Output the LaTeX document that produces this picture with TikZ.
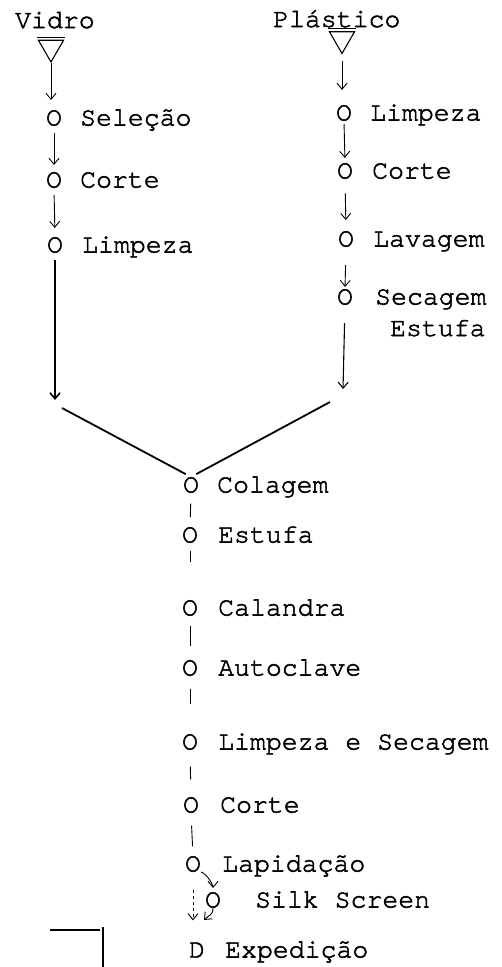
\documentclass[tikz,border=0pt]{standalone}
\usepackage{fontspec}
\newfontfamily\tw{texgyrecursor-regular}[Extension=.otf, FakeBold=2]
\newcommand\twfont{\tw\fontsize{26.5}{30}\selectfont}
\usetikzlibrary{arrows.meta, shapes.geometric, calc}

\begin{document}
\begin{tikzpicture}[x=1pt, y=-1pt,
  txt/.style={font=\twfont, inner sep=0pt, anchor=base west},
  op/.style={font=\twfont, inner sep=0pt, anchor=center},
  store/.style={draw, line width=1.1pt, regular polygon, regular polygon sides=3,
    shape border rotate=180, inner sep=0pt, minimum size=29pt},
  flow/.style={line width=0.9pt, -{Straight Barb[length=6pt, width=10pt]}},
  link/.style={line width=0.9pt},
  merge/.style={line width=1.8pt}]
\useasboundingbox (0,0) rectangle (502,967);

% --- glass branch ---
\node[txt] (vidro) at (15,28) {Vidro};
\node[store] (vtri) at (51,47.5) {};
\draw[line width=1pt] ($(vtri.corner 2)+(0,-2.5)$) -- ($(vtri.corner 3)+(0,-2.5)$);
\node[op] (vsel) at (54,118) {O};
\node[txt] (vsell) at (80,125.5) {Seleção};
\node[op] (vcor) at (54,180) {O};
\node[txt] (vcorl) at (80,187.5) {Corte};
\node[op] (vlim) at (55,245) {O};
\node[txt] (vliml) at (82,252.5) {Limpeza};

% --- plastic branch ---
\node[txt] (plas) at (273,27) {Plástico};
\node[store] (ptri) at (342,39) {};
\draw[line width=1pt] ($(ptri.corner 2)+(0,-2.5)$) -- ($(ptri.corner 3)+(0,-2.5)$);
\node[op] (plim) at (344,113) {O};
\node[txt] (pliml) at (370,120.5) {Limpeza};
\node[op] (pcor) at (345,171) {O};
\node[txt] (pcorl) at (372,178.5) {Corte};
\node[op] (plav) at (346,239) {O};
\node[txt] (plavl) at (373,246.5) {Lavagem};
\node[op] (psec) at (345,297) {O};
\node[txt] (psecl) at (375,304.5) {Secagem};
\node[txt] (psecl2) at (390,336) {Estufa};

% --- joint line ---
\node[op] (col) at (191,485) {O};
\node[txt] (coll) at (217,492.5) {Colagem};
\node[op] (est) at (190,535) {O};
\node[txt] (estl) at (218,542.5) {Estufa};
\node[op] (cal) at (190,608) {O};
\node[txt] (call) at (218,615.5) {Calandra};
\node[op] (aut) at (190,668) {O};
\node[txt] (autl) at (218,675.5) {Autoclave};
\node[op] (les) at (190,742) {O};
\node[txt] (lesl) at (218,749.5) {Limpeza e Secagem};
\node[op] (cor) at (191,805) {O};
\node[txt] (corl) at (220,812.5) {Corte};
\node[op] (lap) at (193,864) {O};
\node[txt] (lapl) at (222,871.5) {Lapidação};
\node[op] (silk) at (213,900) {O};
\node[txt] (silkl) at (255,907.5) {Silk Screen};
\node[op] (exp) at (197,950) {D};
\node[txt] (expl) at (225,957.5) {Expedição};

% arrow ends and merge points
\coordinate (jlt) at (55,400);
\coordinate (jls) at (62,408);
\coordinate (jrt) at (343,389);
\coordinate (jrs) at (330,402);
\coordinate (sxt) at (204,920);

% glass flow
\draw[flow] (vtri.corner 1) -- (vtri.corner 1 |- vsel.north) [shorten >=10pt];
\draw[flow, shorten <=7pt, shorten >=7pt] (vsel.south) -- (vcor.north);
\draw[flow, shorten <=7pt, shorten >=9pt] (vcor.south) -- (vlim.north);
\draw[flow, line width=1.6pt, shorten <=7pt] (vlim.south) -- (jlt);

% plastic flow
\draw[flow, shorten <=6pt, shorten >=15pt] (ptri.corner 1) -- (ptri.corner 1 |- plim.north);
\draw[flow, shorten <=3pt, shorten >=5pt] (plim.south) -- (pcor.north);
\draw[flow, shorten <=14pt, shorten >=11pt] (pcor.south) -- (plav.north);
\draw[flow, shorten <=18pt, shorten >=2pt] (plav.south) -- (psec.north);
\draw[flow, line width=1.1pt, shorten <=18pt] (psec.south) -- (jrt);

% branches joining at the bonding step
\draw[merge, shorten >=6pt] (jls) -- (col.north);
\draw[merge, shorten >=6pt] (jrs) -- (col.north);

% joint line links
\draw[link, shorten <=10.5pt, shorten >=9.5pt] (col.south) -- (est.north);
\draw[link, shorten <=7.5pt, shorten >=37.5pt] (est.south) -- (cal.north);
\draw[link, shorten <=9.5pt, shorten >=13.5pt] (cal.south) -- (aut.north);
\draw[link, shorten <=12.5pt, shorten >=29.5pt] (aut.south) -- (les.north);
\draw[link, shorten <=16.5pt, shorten >=17.5pt] (les.south) -- (cor.north);
\draw[link, shorten <=12.5pt, shorten >=9.5pt] (cor.south) -- (lap.north);
\draw[flow, dashed, shorten <=18pt, shorten >=22pt] (lap.south) -- (lap.south |- exp.north);
\draw[flow, shorten >=4pt] (lap.south east) .. controls +(6,2) and +(0,-7) .. (silk.north);
\draw[flow] (silk.south) .. controls +(0,7) and +(5,-5) .. (sxt);

% corner of the frame below
\draw[line width=1.2pt] (50,930) -- (100,930);
\draw[line width=1.6pt] (103,927) -- (103,967);
\end{tikzpicture}
\end{document}
